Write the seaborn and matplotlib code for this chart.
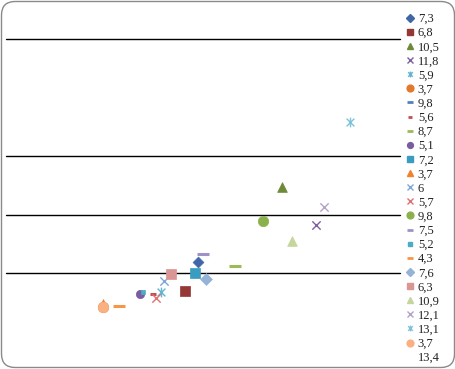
import numpy as np
import pandas as pd
import matplotlib
matplotlib.use("Agg")
import matplotlib.pyplot as plt
import seaborn as sns
from matplotlib.lines import Line2D
from matplotlib.patches import FancyBboxPatch
from matplotlib.path import Path

# ---- data -------------------------------------------------------------
labels = ["7,3", "6,8", "10,5", "11,8", "5,9", "3,7", "9,8", "5,6", "8,7", "5,1",
          "7,2", "3,7", "6", "5,7", "9,8", "7,5", "5,2", "4,3", "7,6", "6,3",
          "10,9", "12,1", "13,1", "3,7", "13,4"]
x_vals = [7.3, 6.8, 10.5, 11.8, 5.9, 3.7, 9.8, 5.6, 8.7, 5.1,
          7.2, 3.7, 6.0, 5.7, 9.8, 7.5, 5.2, 4.3, 7.6, 6.3,
          10.9, 12.1, 13.1, 3.7, 13.4]
y_vals = [1.19, 0.69, 2.48, 1.82, 0.675, 0.43, 1.89, 0.65, 1.13, 0.646,
          1.01, 0.47, 0.873, 0.573, 1.894, 1.325, 0.68, 0.436, 0.908, 0.993,
          1.552, 2.138, 3.592, 0.43, 3.0]
grid_levels = [1, 2, 3, 5]

# ---- styles -----------------------------------------------------------
star = Path([(-1, -1), (1, 1), (-1, 1), (1, -1), (0, -1.25), (0, 1.25)],
            [Path.MOVETO, Path.LINETO, Path.MOVETO, Path.LINETO, Path.MOVETO, Path.LINETO])
colors = ["#3F67A8", "#953735", "#6E8A36", "#7E5FA0", "#62B5D0", "#E4782A", "#4F81BD",
          "#C0504D", "#9BBB59", "#7A5CA0", "#3A9CC0", "#F0822E", "#7DA6D8", "#E07070",
          "#8DB04E", "#A090C8", "#4BACC6", "#F79646", "#95B3D7", "#D99694", "#C3D69B",
          "#B3A2C7", "#7FC3DA", "#FAB080", "#4F81BD"]
markers = ["D", "s", "^", "x", "star", "o", "_", "_", "_", "o",
           "s", "^", "x", "x", "o", "_", "s", "_", "D", "s",
           "^", "x", "star", "o", None]
sizes = [5.5, 7, 7, 6, 6, 7.5, 6, 5, 8, 6,
         7, 7, 6, 6, 7.5, 8, 3, 8, 6, 7,
         7, 6, 6, 7.5, 0]

W, H = 456, 369
fig = plt.figure(figsize=(W / 100, H / 100), dpi=100)
sns.set_style("white")
plt.rcParams['font.family'] = ['Liberation Serif', 'DejaVu Serif']

left, right = 6 / W, 400 / W
bottom, top = (H - 331.8) / H, (H - 39.3) / H
ax = fig.add_axes([left, bottom, right - left, top - bottom])
ax.set_xlim(0, 15)
ax.set_ylim(0, 5)
ax.set_axis_off()

for g in grid_levels:
    ax.axhline(g, color="black", lw=1.0, clip_on=False, zorder=0)

handles = []
for i in range(len(labels)):
    m = markers[i]
    c = colors[i]
    if m is None:
        handles.append(Line2D([], [], ls="none", marker=None, color="none"))
        continue
    mk = star if m == "star" else m
    if m == "star":
        ax.plot([x_vals[i]], [y_vals[i]], ls="none", marker=star, color=c,
                markersize=sizes[i] + 1, markeredgewidth=1.0, zorder=3)
    else:
        df = pd.DataFrame({"x": [x_vals[i]], "y": [y_vals[i]]})
        if m in ("x", "_"):
            lw = 2.2 if m == "_" else 1.0
            sns.scatterplot(data=df, x="x", y="y", marker=m, color=c, s=sizes[i] ** 2,
                            linewidth=lw, ax=ax, zorder=3, legend=False)
        else:
            sns.scatterplot(data=df, x="x", y="y", marker=m, color=c, s=sizes[i] ** 2,
                            edgecolor=c, linewidth=0.5, ax=ax, zorder=3, legend=False)
    lw = 2.0 if m == "_" else 1.0
    handles.append(Line2D([], [], ls="none", marker=mk, color=c,
                          markersize=max(min(sizes[i], 7) * 0.7, 3), markeredgewidth=lw))

leg = fig.legend(handles, labels, loc="upper left", bbox_to_anchor=(406 / W, 1 - 13 / H),
                 frameon=False, fontsize=9, labelspacing=0.17, handlelength=0.7,
                 handletextpad=0.25, borderpad=0, borderaxespad=0)
for t in leg.get_texts():
    t.set_color("#222222")

border = FancyBboxPatch((1.5 / W, 1.5 / H), (W - 3) / W, (H - 3) / H,
                        boxstyle="round,pad=0,rounding_size=0.03",
                        transform=fig.transFigure, facecolor="none",
                        edgecolor="#8A8A8A", lw=1.0, mutation_aspect=W / H)
fig.patches.append(border)

fig.savefig("out.png", dpi=100)
